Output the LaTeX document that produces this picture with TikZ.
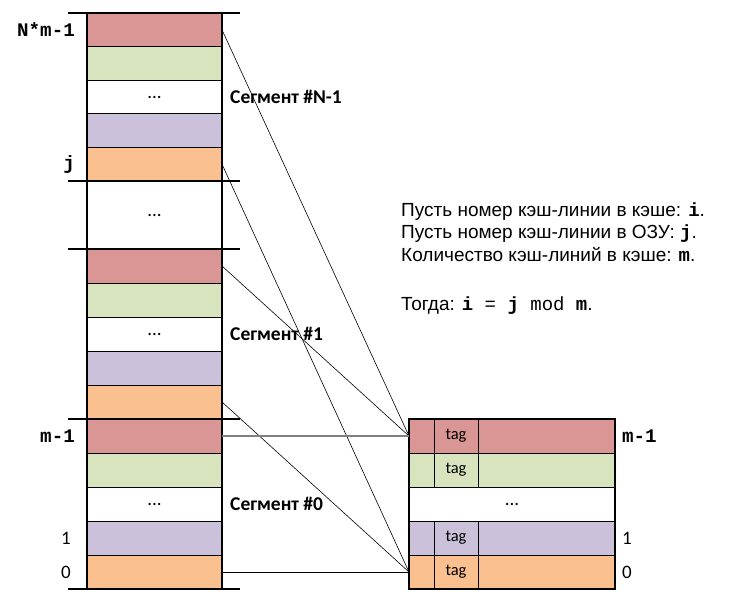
\documentclass[tikz,border=0pt]{standalone}
\usepackage{fontspec}
\setmainfont{Liberation Sans}
\setmonofont{Liberation Mono}
\newfontfamily\calfont{Carlito}
\definecolor{cred}{RGB}{217,150,148}
\definecolor{cgreen}{RGB}{215,228,189}
\definecolor{cpurple}{RGB}{204,193,218}
\definecolor{corange}{RGB}{250,192,144}
\definecolor{cgrayline}{RGB}{128,128,128}
\begin{document}
\begin{tikzpicture}[x=1pt,y=-1pt,
  memrow/.style={draw=black, line width=0.8pt, minimum width=135pt, minimum height=34pt,
     inner sep=0pt, outer sep=0pt, font=\calfont\fontsize{19}{19}\selectfont},
  cacherow/.style={draw=black, line width=0.8pt, minimum width=206pt, minimum height=34pt,
     inner sep=0pt, outer sep=0pt, font=\calfont\fontsize{19}{19}\selectfont},
  tagcell/.style={draw=black, line width=0.8pt, minimum width=44pt, minimum height=34pt,
     inner sep=0pt, outer sep=0pt, font=\calfont\fontsize{16.5}{16.5}\selectfont},
  monolab/.style={inner sep=0pt, font=\ttfamily\bfseries\fontsize{19.2}{19.2}\selectfont},
  numlab/.style={inner sep=0pt, font=\calfont\fontsize{19}{19}\selectfont},
  seglab/.style={inner sep=0pt, anchor=west, font=\calfont\bfseries\fontsize{19.5}{19.5}\selectfont},
  txt/.style={inner sep=0pt, anchor=base west, font=\fontsize{19}{19}\selectfont},
  sepline/.style={line width=1.6pt},
  outline/.style={line width=1.6pt},
  conn/.style={line width=0.6pt, black},
  grayconn/.style={line width=1.4pt, cgrayline},
  blackconn/.style={line width=0.9pt, black}]
\useasboundingbox (0,0) rectangle (741,613);
\fill[white] (0,0) rectangle (741,613);

% segment N-1
\node[memrow, minimum height=33.6pt, fill=cred]    (a4) at (154.5,29.8) {};
\node[memrow, minimum height=33.6pt, fill=cgreen]  (a3) at (154.5,63.4) {};
\node[memrow, minimum height=33.6pt, fill=white]   (a2) at (154.5,97) {...};
\node[memrow, minimum height=33.6pt, fill=cpurple] (a1) at (154.5,130.6) {};
\node[memrow, minimum height=33.6pt, fill=corange] (a0) at (154.5,164.2) {};
% gap
\node[memrow, minimum height=68pt, fill=white] (gap) at (154.5,215) {...};
% segment 1
\node[memrow, fill=cred]    (b4) at (154.5,266) {};
\node[memrow, fill=cgreen]  (b3) at (154.5,300) {};
\node[memrow, fill=white]   (b2) at (154.5,334) {...};
\node[memrow, fill=cpurple] (b1) at (154.5,368) {};
\node[memrow, fill=corange] (b0) at (154.5,402) {};
% segment 0
\node[memrow, fill=cred]    (z4) at (154.5,436) {};
\node[memrow, fill=cgreen]  (z3) at (154.5,470) {};
\node[memrow, fill=white]   (z2) at (154.5,504) {...};
\node[memrow, fill=cpurple] (z1) at (154.5,538) {};
\node[memrow, fill=corange] (z0) at (154.5,572) {};

\draw[outline] (a4.north west) rectangle (z0.south east);
\draw[sepline] (68,13) -- (240,13);
\draw[sepline] (68,181) -- (240,181);
\draw[sepline] (68,249) -- (240,249);
\draw[sepline] (68,419) -- (240,419);
\draw[sepline] (68,589) -- (240,589);

% cache
\node[cacherow, fill=cred]    (c4) at (512,436) {};
\node[cacherow, fill=cgreen]  (c3) at (512,470) {};
\node[cacherow, fill=white]   (c2) at (512,504) {...};
\node[cacherow, fill=cpurple] (c1) at (512,538) {};
\node[cacherow, fill=corange] (c0) at (512,572) {};
\node[tagcell] (t4) at (456,436) {tag};
\node[tagcell] (t3) at (456,470) {tag};
\node[tagcell] (t1) at (456,538) {tag};
\node[tagcell] (t0) at (456,572) {tag};
\draw[line width=1.4pt] (c4.north west) rectangle (c0.south east);

% connectors
\draw[conn] (a4.east) -- (c4.west);
\draw[conn] (a0.east) -- (c0.west);
\draw[conn] (b4.east) -- (c4.west);
\draw[conn] (b0.east) -- (c0.west);
\draw[grayconn] (z4.east) -- (c4.west);
\draw[blackconn] (z0.east) -- (c0.west);

% left labels
\node[monolab, anchor=east] (lnm) at (75,29.8) {N*m-1};
\node[monolab, anchor=east] (lj) at (75,164.2) {j};
\node[monolab, anchor=east] (lm) at (75,436) {m-1};
\node[numlab, anchor=east] (l1) at (71,538) {1};
\node[numlab, anchor=east] (l0) at (71,572) {0};
% right labels
\node[monolab, anchor=west] (rm) at (622,436) {m-1};
\node[numlab, anchor=west] (r1) at (622,538) {1};
\node[numlab, anchor=west] (r0) at (622,572) {0};

% segment labels
\node[seglab] (sN) at (230,97) {Сегмент \#N-1};
\node[seglab] (s1) at (230,334) {Сегмент \#1};
\node[seglab] (s0) at (230,504) {Сегмент \#0};

% text
\node[txt] (t1l) at (401,216) {Пусть номер кэш-линии в кэше: \texttt{\textbf{i}}.};
\node[txt] (t2l) at (401,238.5) {Пусть номер кэш-линии в ОЗУ: \texttt{\textbf{j}}.};
\node[txt] (t3l) at (401,261) {Количество кэш-линий в кэше: \texttt{\textbf{m}}.};
\node[txt] (t5l) at (401,310) {Тогда: \texttt{\textbf{i} = \textbf{j} mod \textbf{m}}.};
\end{tikzpicture}
\end{document}
